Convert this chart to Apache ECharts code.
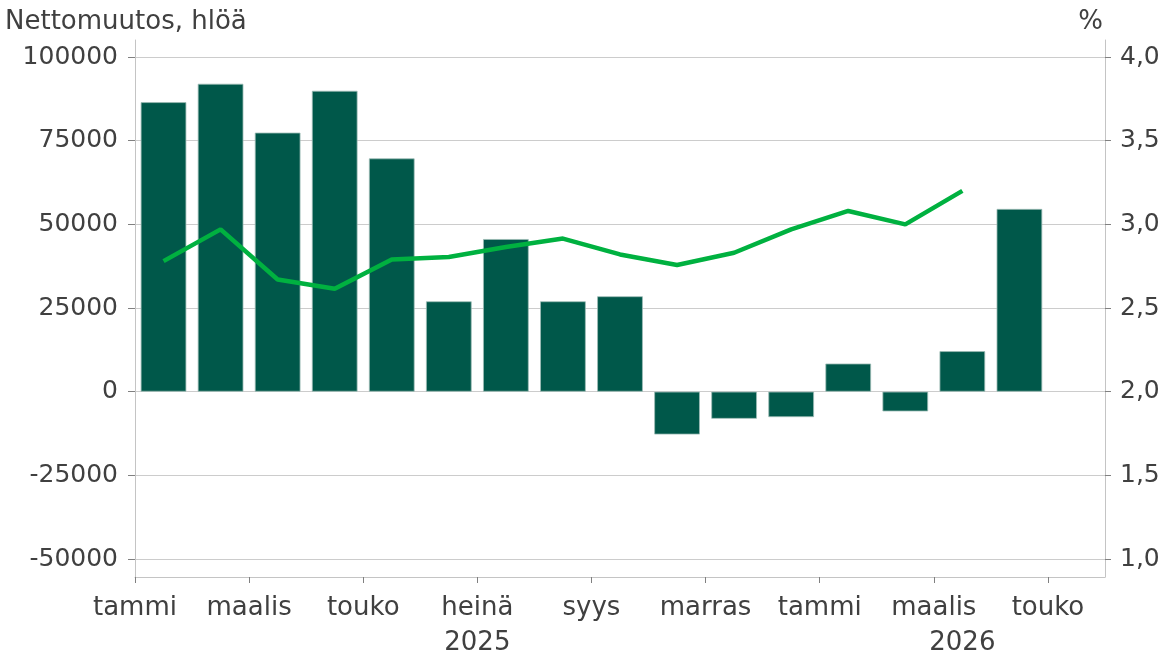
<!DOCTYPE html>
<html>
<head>
<meta charset="utf-8">
<script src="https://cdn.jsdelivr.net/npm/echarts@6/dist/echarts.min.js"></script>
<style>
  html, body { margin: 0; padding: 0; background: #fff; }
  #c1 { width: 1168px; height: 662px; }
</style>
</head>
<body>
<div id="c1"></div>
<script>
// kuukaudet ja vuodet (touko 2026 tyhjä)
var months = ["tammi", "helmi", "maalis", "huhti", "touko", "kesä", "heinä", "elo",
  "syys", "loka", "marras", "joulu", "tammi", "helmi", "maalis", "huhti", "touko"];
var years = ["2025", "2025", "2025", "2025", "2025", "2025", "2025", "2025",
  "2025", "2025", "2025", "2025", "2026", "2026", "2026", "2026", "2026"];
// nettomuutos, hlöä
var netChange = [86500, 92000, 77400, 89900, 69700, 27000, 45600, 27000,
  28500, -12800, -8100, -7600, 8400, -5900, 12100, 54600, null];
// %, oikea akseli
var rate = [2.78, 2.97, 2.67, 2.615, 2.79, 2.805, 2.865, 2.915,
  2.82, 2.757, 2.83, 2.97, 3.08, 3.0, 3.2];

var leftTicks = { min: -50000, max: 100000, step: 25000 };
var rightTicks = { min: 1, max: 4, step: 0.5 };

var font = "DejaVu Sans";
var txt = "#404040";

// tick positions on category boundaries: months.length + 1 points
var boundaryLabels = [];
for (var i = 0; i <= months.length; i++) {
  boundaryLabels.push(i < months.length && i % 2 === 0 ? months[i] : "");
}

// year label at the middle of its span
var yearPos = {};
var first = {};
for (var k = 0; k < years.length; k++) {
  if (first[years[k]] === undefined) first[years[k]] = k;
  yearPos[years[k]] = (first[years[k]] + k + 1) / 2;
}

var chartDom = document.getElementById("c1");
var myChart = echarts.init(chartDom);
var option;

option = {
  animation: false,
  title: [
    {
      text: "Nettomuutos, hlöä",
      left: 0,
      top: 4,
      textStyle: { color: txt, fontFamily: font, fontSize: 26, fontWeight: "normal" },
    },
    {
      text: "%",
      right: 60,
      top: 4,
      textStyle: { color: txt, fontFamily: font, fontSize: 26, fontWeight: "normal" },
    },
  ],
  grid: [
    { left: 135, right: 63, top: 57, bottom: 103 },
    { left: 135, right: 63, top: 40, bottom: 85 },
  ],
  xAxis: [
    {
      type: "category",
      gridIndex: 0,
      data: months,
      show: false,
    },
    {
      type: "category",
      gridIndex: 1,
      data: boundaryLabels,
      boundaryGap: false,
      axisLine: { show: true, lineStyle: { color: "#c4c4c4", width: 1 } },
      axisTick: {
        show: true,
        length: 6,
        interval: function (idx) {
          return idx % 2 === 0 && idx < months.length;
        },
        lineStyle: { color: "#808080" },
      },
      axisLabel: {
        interval: 0,
        margin: 18,
        color: txt,
        fontFamily: font,
        fontSize: 26,
      },
      splitLine: { show: false },
    },
    {
      type: "value",
      gridIndex: 1,
      min: 0,
      max: months.length,
      interval: 0.5,
      position: "bottom",
      axisLine: { show: false },
      axisTick: { show: false },
      splitLine: { show: false },
      axisLabel: {
        margin: 53,
        color: txt,
        fontFamily: font,
        fontSize: 26,
        formatter: function (v) {
          for (var y in yearPos) {
            if (Math.abs(yearPos[y] - v) < 1e-6) return y;
          }
          return "";
        },
      },
    },
  ],
  yAxis: [
    {
      type: "value",
      gridIndex: 0,
      min: leftTicks.min,
      max: leftTicks.max,
      interval: leftTicks.step,
      axisLine: { show: false },
      axisTick: { show: true, length: 7, lineStyle: { color: "#808080" } },
      axisLabel: {
        margin: 17,
        color: txt,
        fontFamily: font,
        fontSize: 25,
        formatter: function (v) {
          return String(v);
        },
      },
      splitLine: { show: true, lineStyle: { color: "#cccccc", width: 1 } },
    },
    {
      type: "value",
      gridIndex: 0,
      position: "right",
      min: rightTicks.min,
      max: rightTicks.max,
      interval: rightTicks.step,
      axisLine: { show: false },
      axisTick: { show: true, length: 6, lineStyle: { color: "#808080" } },
      axisLabel: {
        margin: 15,
        color: txt,
        fontFamily: font,
        fontSize: 25,
        formatter: function (v) {
          return v.toFixed(1).replace(".", ",");
        },
      },
      splitLine: { show: false },
    },
    {
      type: "value",
      gridIndex: 1,
      min: 0,
      max: 1,
      axisLine: { show: true, lineStyle: { color: "#c4c4c4", width: 1 } },
      axisTick: { show: false },
      axisLabel: { show: false },
      splitLine: { show: false },
    },
    {
      type: "value",
      gridIndex: 1,
      position: "right",
      min: 0,
      max: 1,
      axisLine: { show: true, lineStyle: { color: "#c4c4c4", width: 1 } },
      axisTick: { show: false },
      axisLabel: { show: false },
      splitLine: { show: false },
    },
  ],
  series: [
    {
      name: "Nettomuutos",
      type: "bar",
      xAxisIndex: 0,
      yAxisIndex: 0,
      data: netChange,
      barWidth: "80%",
      itemStyle: {
        color: "#00584a",
        borderColor: "#9dbdb6",
        borderWidth: 0.8,
      },
    },
    {
      name: "%",
      type: "line",
      xAxisIndex: 0,
      yAxisIndex: 1,
      data: rate,
      symbol: "none",
      z: 3,
      lineStyle: { color: "#00b140", width: 4.5 },
    },
  ],
};
myChart.setOption(option);
window.addEventListener("resize", function () {
  myChart.resize();
});
</script>
</body>
</html>
